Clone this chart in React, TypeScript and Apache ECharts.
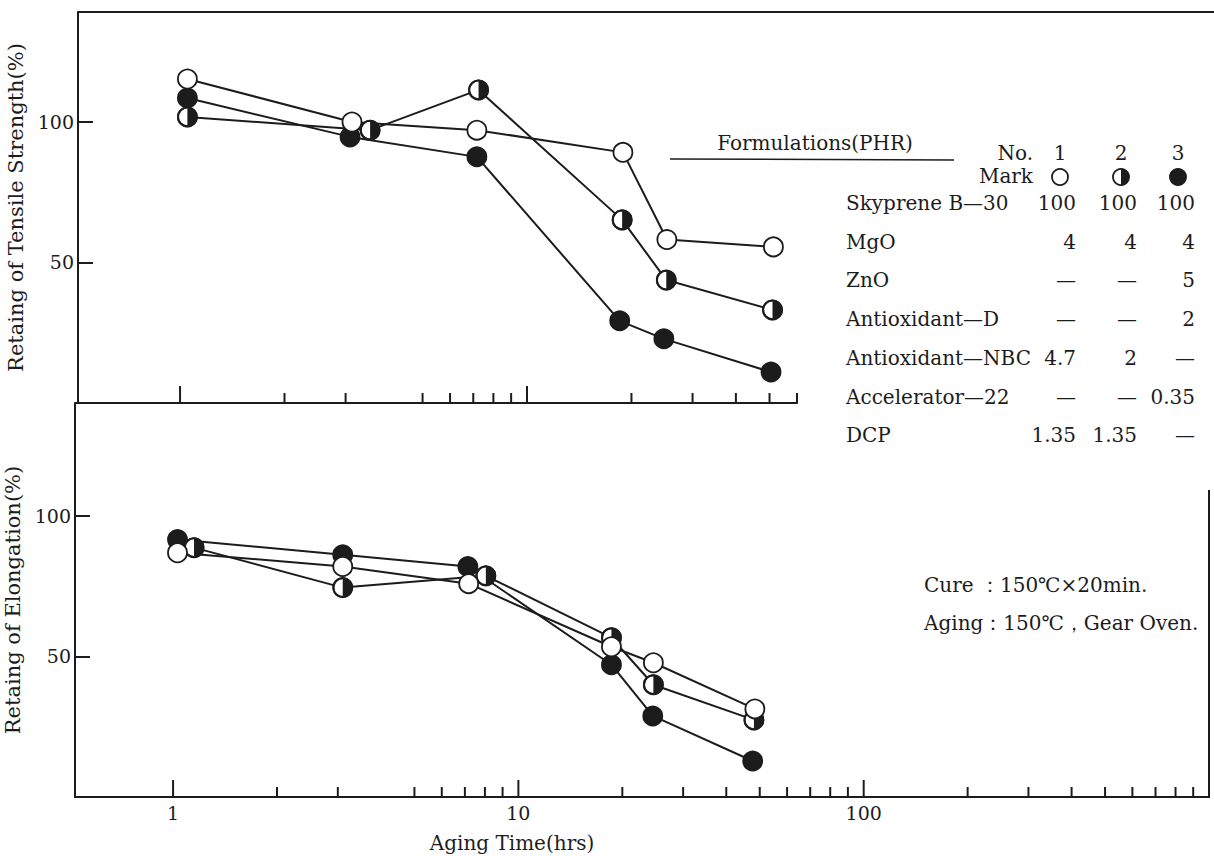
import React, { useEffect, useRef } from 'react';
import * as echarts from 'echarts';

const FONT = '"DejaVu Serif", "Liberation Serif", serif';
const INK = '#1c1c1c';

// ---- Retaining of tensile strength (%) vs aging time (hrs) ----
const tensileHoursNo1 = [1.05, 3.13, 7.17, 18.9, 25.3, 51.3];
const tensileNo1 = [115.2, 99.9, 97.0, 89.1, 58.1, 55.5];
const tensileHoursNo2 = [1.05, 3.53, 7.25, 18.8, 25.2, 51.0];
const tensileNo2 = [101.7, 97.0, 111.3, 65.1, 43.7, 33.1];
const tensileHoursNo3 = [1.05, 3.09, 7.17, 18.5, 24.8, 50.5];
const tensileNo3 = [108.4, 94.6, 87.5, 29.2, 22.8, 11.0];

// ---- Retaining of elongation (%) vs aging time (hrs) ----
const elongHoursNo1 = [1.03, 3.1, 7.18, 18.6, 24.6, 48.4];
const elongNo1 = [86.8, 81.9, 75.8, 53.4, 47.7, 31.3];
const elongHoursNo2 = [1.15, 3.1, 8.05, 18.6, 24.6, 48.1];
const elongNo2 = [88.6, 74.4, 78.6, 56.6, 39.9, 27.4];
const elongHoursNo3 = [1.03, 3.1, 7.14, 18.6, 24.5, 47.7];
const elongNo3 = [91.5, 86.1, 81.9, 47.0, 28.8, 12.8];

// ---- axes ----
const xTickLabels = [1, 10, 100];
const xMajorTicks = [1, 10, 100];
const xTicksTop = [1, 2, 3, 5, 6, 7, 8, 9, 10, 20, 30, 40, 50, 60];
const xTicksBottom = [1, 2, 3, 5, 6, 7, 8, 9, 10, 20, 30, 40, 50, 60, 70, 80, 90, 100, 200, 300, 400, 500, 600, 700, 800, 900];
const yTickLabels = [50, 100];

// ---- formulation table ----
const formulationNumbers = ['1', '2', '3'];
const formulationItems = ['Skyprene B—30', 'MgO', 'ZnO', 'Antioxidant—D', 'Antioxidant—NBC', 'Accelerator—22', 'DCP'];
const formulationNo1 = ['100', '4', '—', '—', '4.7', '—', '1.35'];
const formulationNo2 = ['100', '4', '—', '—', '2', '—', '1.35'];
const formulationNo3 = ['100', '4', '5', '2', '—', '0.35', '—'];
const conditions = ['Cure ：150℃×20min.', 'Aging：150℃，Gear Oven.'];

const HALF_PATH =
  'path://M10,0 A10,10 0 1,1 10,20 A10,10 0 1,1 10,0 Z M10,2 A8,8 0 1,0 10,18 A8,8 0 1,0 10,2 Z M10,2 A8,8 0 0,1 10,18 Z';

const zip = (xs: number[], ys: number[]) => xs.map((x, i) => [x, ys[i]]);

function panelSeries(idx: number, d1: number[][], d2: number[][], d3: number[][], ticks: number[]) {
  const line = (data: number[][]) => ({
    type: 'line',
    xAxisIndex: idx,
    yAxisIndex: idx,
    data,
    symbol: 'none',
    lineStyle: { color: INK, width: 2 },
    z: 2,
    silent: true,
  });
  const dots = (data: number[][], fill: string, symbol = 'circle', size = 19, bw = 1.8) => ({
    type: 'scatter',
    xAxisIndex: idx,
    yAxisIndex: idx,
    data,
    symbol,
    symbolSize: size,
    itemStyle: { color: fill, borderColor: INK, borderWidth: bw, opacity: 1 },
    z: 3,
    silent: true,
  });
  return [
    line(d3),
    line(d2),
    line(d1),
    dots(d3, INK),
    dots(d2, '#ffffff'),
    dots(d2, INK, HALF_PATH, 20.8, 0),
    dots(d1, '#ffffff'),
    {
      type: 'custom',
      xAxisIndex: idx,
      yAxisIndex: idx,
      data: ticks.map((t) => [t, 0]),
      silent: true,
      z: 2,
      renderItem: (params: any, api: any) => {
        const v = api.value(0);
        const p = api.coord([v, 0]);
        const len = xMajorTicks.includes(v) ? 17 : 10;
        return {
          type: 'line',
          shape: { x1: p[0], y1: p[1], x2: p[0], y2: p[1] - len },
          style: { stroke: INK, lineWidth: 2 },
        };
      },
    },
  ];
}

function yAxis(idx: number, max: number, name: string, gap: number) {
  return {
    gridIndex: idx,
    type: 'value',
    min: 0,
    max,
    interval: 50,
    axisLine: { show: true, onZero: false, lineStyle: { color: INK, width: 2 } },
    axisTick: { show: true, inside: true, length: 15, lineStyle: { color: INK, width: 2 } },
    axisLabel: {
      margin: 4,
      fontFamily: FONT,
      fontSize: 19,
      color: INK,
      formatter: (v: number) => (yTickLabels.includes(v) ? String(v) : ''),
    },
    splitLine: { show: false },
    name,
    nameLocation: 'middle',
    nameGap: gap,
    nameTextStyle: { fontFamily: FONT, fontSize: 21, color: INK },
  };
}

function xAxis(idx: number, min: number, max: number, labels: boolean) {
  return {
    gridIndex: idx,
    type: 'log',
    logBase: 10,
    min,
    max,
    axisLine: { show: true, onZero: false, lineStyle: { color: INK, width: 2 } },
    axisTick: { show: false },
    splitLine: { show: false },
    axisLabel: {
      show: labels,
      margin: 6,
      fontFamily: FONT,
      fontSize: 19,
      color: INK,
      formatter: (v: number) => {
        const r = Math.round(v * 1000) / 1000;
        return xTickLabels.includes(r) ? String(r) : '';
      },
    },
  };
}

function buildGraphic() {
  const g: any[] = [];
  const txt = (text: string, x: number, y: number, align = 'left', size = 20) => ({
    type: 'text',
    x,
    y,
    silent: true,
    style: { text, fill: INK, fontFamily: FONT, fontSize: size, align, verticalAlign: 'middle' },
  });
  // frame
  g.push({ type: 'line', silent: true, shape: { x1: 78, y1: 12, x2: 1214, y2: 12 }, style: { stroke: INK, lineWidth: 2 } });
  g.push({ type: 'line', silent: true, shape: { x1: 1209, y1: 490, x2: 1209, y2: 798 }, style: { stroke: INK, lineWidth: 2 } });
  // x axis title
  g.push(txt('Aging Time(hrs)', 512, 843, 'center'));
  // formulation table
  g.push(txt('Formulations(PHR)', 815, 143, 'center'));
  g.push({ type: 'line', silent: true, shape: { x1: 670, y1: 159, x2: 954, y2: 160 }, style: { stroke: INK, lineWidth: 1.5 } });
  const colCenters = [1060, 1121, 1178];
  const colRights = [1076, 1137, 1195];
  g.push(txt('No.', 1033, 153, 'right'));
  g.push(txt('Mark', 1033, 176, 'right'));
  formulationNumbers.forEach((n, i) => g.push(txt(n, colCenters[i], 153, 'center')));
  const r = 8;
  g.push({ type: 'circle', silent: true, shape: { cx: colCenters[0], cy: 177, r }, style: { fill: '#fff', stroke: INK, lineWidth: 1.8 } });
  g.push({ type: 'circle', silent: true, shape: { cx: colCenters[1], cy: 177, r }, style: { fill: '#fff', stroke: INK, lineWidth: 1.8 } });
  g.push({
    type: 'sector',
    silent: true,
    shape: { cx: colCenters[1], cy: 177, r0: 0, r, startAngle: -Math.PI / 2, endAngle: Math.PI / 2, clockwise: true },
    style: { fill: INK },
  });
  g.push({ type: 'circle', silent: true, shape: { cx: colCenters[2], cy: 177, r }, style: { fill: INK, stroke: INK, lineWidth: 1.8 } });
  const cols = [formulationNo1, formulationNo2, formulationNo3];
  formulationItems.forEach((item, i) => {
    const y = 203 + i * 38.7;
    g.push(txt(item, 846, y, 'left'));
    cols.forEach((col, c) => g.push(txt(col[i], colRights[c], y, 'right')));
  });
  // conditions
  conditions.forEach((c, i) => g.push(txt(c, 924, 585 + i * 38, 'left')));
  return g;
}

export default function App() {
  const ref = useRef<HTMLDivElement>(null);
  useEffect(() => {
    if (!ref.current) return;
    const chart = echarts.init(ref.current, undefined, { renderer: 'svg' });
    chart.setOption({
      animation: false,
      backgroundColor: '#ffffff',
      textStyle: { fontFamily: FONT },
      grid: [
        { left: 78, top: 12, width: 719, height: 391, containLabel: false, outerBoundsMode: 'none' },
        { left: 75, top: 403, width: 1134, height: 394, containLabel: false, outerBoundsMode: 'none' },
      ],
      xAxis: [xAxis(0, 0.508, 60, false), xAxis(1, 0.52, 1000, true)],
      yAxis: [
        yAxis(0, 139, 'Retaing of Tensile Strength(%)', 42),
        yAxis(1, 140, 'Retaing of Elongation(%)', 42),
      ],
      series: [
        ...panelSeries(
          0,
          zip(tensileHoursNo1, tensileNo1),
          zip(tensileHoursNo2, tensileNo2),
          zip(tensileHoursNo3, tensileNo3),
          xTicksTop
        ),
        ...panelSeries(
          1,
          zip(elongHoursNo1, elongNo1),
          zip(elongHoursNo2, elongNo2),
          zip(elongHoursNo3, elongNo3),
          xTicksBottom
        ),
      ],
      graphic: buildGraphic(),
    });
    return () => chart.dispose();
  }, []);
  return <div ref={ref} style={{ position: 'absolute', left: 0, top: 0, width: 1214, height: 856, background: '#fff' }} />;
}
